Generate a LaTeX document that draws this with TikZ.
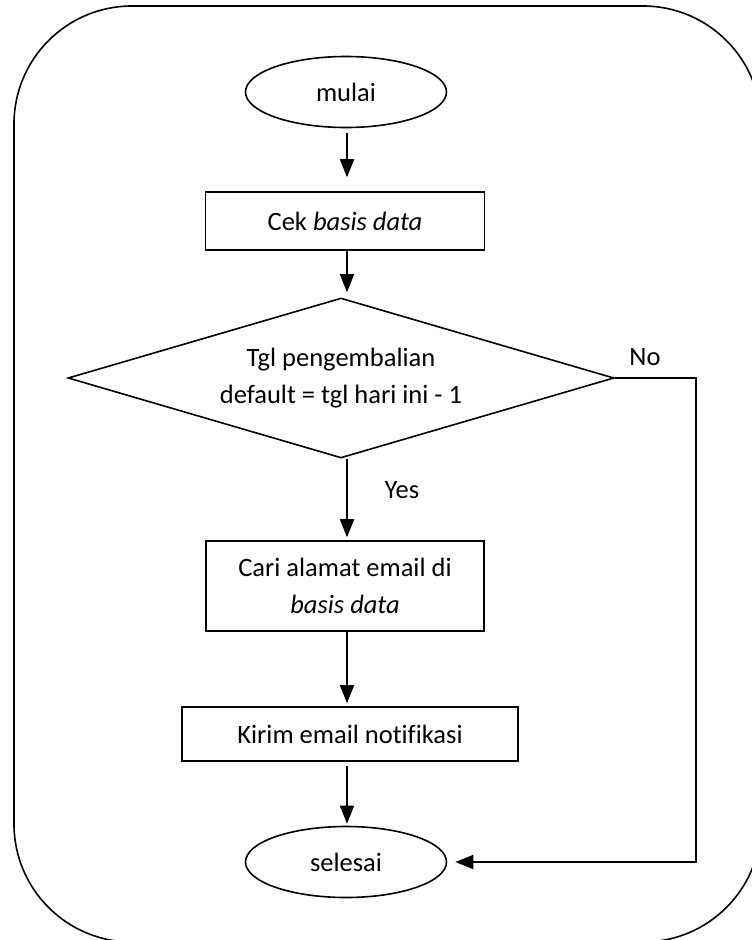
\documentclass[tikz,border=0pt]{standalone}
\usepackage{fontspec}
\setmainfont[Ligatures=NoCommon]{Carlito}
\usetikzlibrary{shapes.geometric,arrows.meta}

\begin{document}
\begin{tikzpicture}[x=1pt,y=-1pt,
  every node/.style={font=\fontsize{26.5}{37}\selectfont},
  shapeline/.style={draw=black,line width=1.6pt},
  term/.style={shapeline,ellipse,minimum width=201pt,minimum height=71pt,inner sep=0pt},
  proc/.style={shapeline,rectangle,inner sep=0pt,align=center},
  decide/.style={shapeline,diamond,minimum width=546pt,minimum height=160pt,inner sep=0pt,align=center,shape aspect=3.4},
  flow/.style={line width=1.8pt,-{Triangle[length=18pt,width=14pt]}},
  lbl/.style={inner sep=0pt}
]
\useasboundingbox (0,0) rectangle (752,940);
\begin{scope}
  \clip (0,0) rectangle (752,940);
  \draw[line width=1.6pt,rounded corners=118pt] (14,6) rectangle (761,942);
\end{scope}

% steps of the flow
\node[term] (mulai) at (346,92) {mulai};
\node[proc,minimum width=279pt,minimum height=58pt] (cek) at (345,221) {Cek \textit{basis data}};
\node[decide] (dec) at (341,378) {Tgl pengembalian\\default = tgl hari ini - 1};
\node[proc,minimum width=278pt,minimum height=90pt] (cari) at (345,586) {Cari alamat email di\\\textit{basis data}};
\node[proc,minimum width=336pt,minimum height=54pt] (kirim) at (350,734) {Kirim email notifikasi};
\node[term] (selesai) at (346,862) {selesai};

% branch labels
\node[lbl] (no) at (645,357) {No};
\node[lbl] (yes) at (402,490) {Yes};
\coordinate (nocorner) at (696,378);

% connectors
\draw[flow,shorten <=5pt,shorten >=14pt] (mulai.south -| 347,0) -- (cek.north -| 347,0);
\draw[flow,shorten >=5pt] (cek.south -| 347,0) -- (dec.north -| 347,0);
\draw[flow,shorten >=3pt] (dec.south -| 347,0) -- (cari.north -| 347,0);
\draw[flow,shorten >=3pt] (cari.south -| 347,0) -- (kirim.north -| 347,0);
\draw[flow,shorten <=4pt,shorten >=2pt] (kirim.south -| 347,0) -- (selesai.north -| 347,0);
\draw[flow,shorten >=8pt] (dec.east) -- (nocorner) |- (selesai.east);
\end{tikzpicture}
\end{document}
